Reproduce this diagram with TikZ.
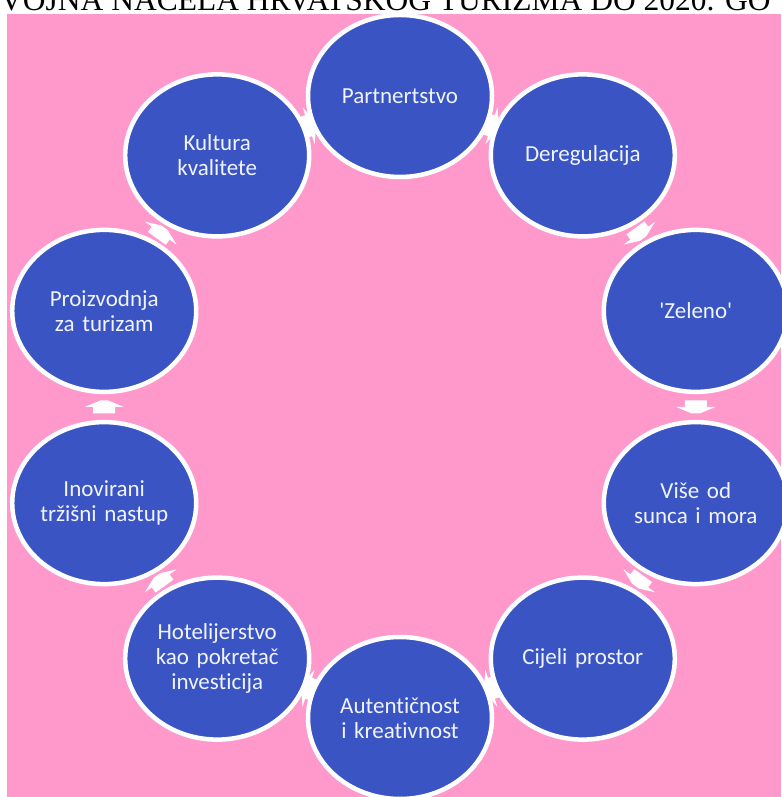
\documentclass[tikz,border=0pt]{standalone}
\usepackage{fontspec}
\setmainfont{Carlito}[Ligatures={NoCommon,NoRare}]
\newfontfamily\titlefont{Liberation Serif}
\usetikzlibrary{shapes.geometric,calc}
\definecolor{bgpink}{RGB}{255,153,204}
\definecolor{bubblue}{RGB}{58,84,196}
\definecolor{bubtext}{RGB}{240,244,252}
\tikzset{
  bub/.style={ellipse, fill=bubblue, draw=white, line width=4.5pt,
    minimum width=184pt, minimum height=162pt, inner sep=0pt, outer sep=0pt,
    text width=130pt, align=center, text=bubtext,
    font=\fontsize{23}{25}\selectfont},
  arrowblk/.style={fill=white}
}
\begin{document}
\begin{tikzpicture}[x=1pt,y=1pt]
\useasboundingbox (0,0) rectangle (781,797);
\fill[bgpink] (7,0) rectangle (781,783);
\node[anchor=base west, inner sep=0pt, font=\titlefont\fontsize{31.5}{31.5}\selectfont] (title) at (0,786) {VOJNA NAČELA HRVATSKOG TURIZMA DO 2020. GO};
\begin{scope}[shift={(400,390)}]
\node[bub] (n1) at (90:311) {Partnertstvo};
\node[bub] (n2) at (54:311) {Deregulacija};
\node[bub] (n3) at (18:311) {\textquotesingle Zeleno\textquotesingle};
\node[bub] (n4) at (-18:311) {Više od\\sunca i mora};
\node[bub] (n5) at (-54:311) {Cijeli prostor};
\node[bub] (n6) at (-90:311) {Autentičnost\\i kreativnost};
\node[bub] (n7) at (-126:311) {Hotelijerstvo\\kao pokretač\\investicija};
\node[bub] (n8) at (-162:311) {Inovirani\\tržišni nastup};
\node[bub] (n9) at (162:311) {Proizvodnja\\za turizam};
\node[bub] (n10) at (126:311) {Kultura\\kvalitete};
\end{scope}
\foreach \i/\j/\a in {1/2/72,2/3/36,3/4/0,4/5/-36,5/6/-72,6/7/-108,7/8/-144,8/9/-180,9/10/-216,10/1/-252}{
  \fill[arrowblk, shift={($(n\i)!0.5!(n\j)$)}, rotate=\a-90]
    (-6.5,-11) -- (0,-11) -- (0,-19.5) -- (6.5,-4) -- (6.5,4) -- (0,19.5) -- (0,11) -- (-6.5,11) -- cycle;
}
\end{tikzpicture}
\end{document}
